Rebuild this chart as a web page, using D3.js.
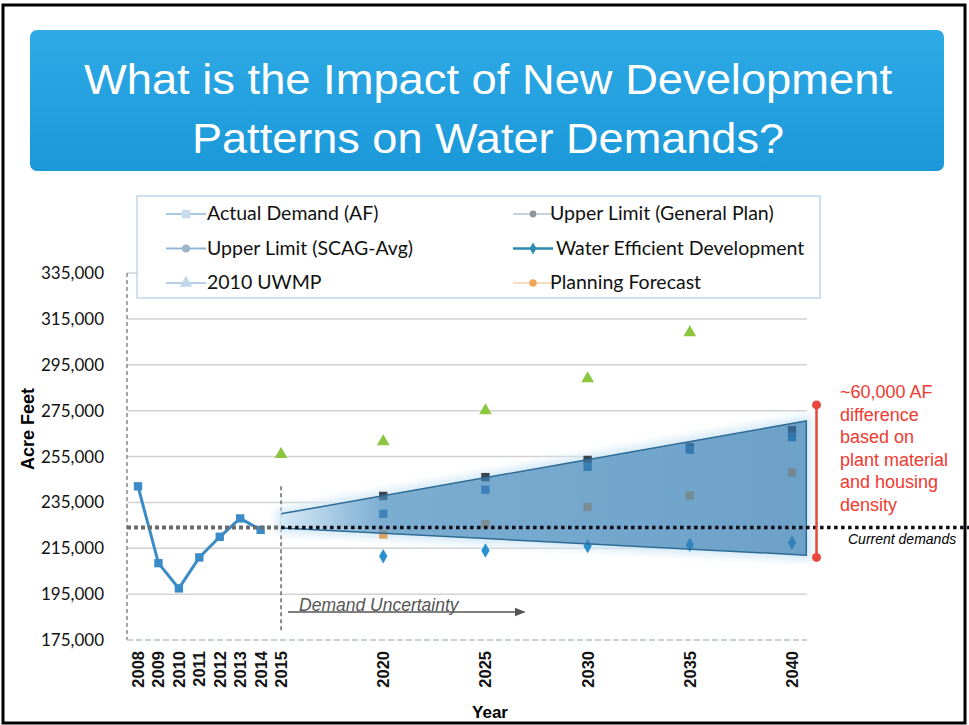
<!DOCTYPE html>
<html>
<head>
<meta charset="utf-8">
<script src="https://cdn.jsdelivr.net/npm/d3@7"></script>
<style>
  body { margin: 0; background: #fff; }
  svg { display: block; }
</style>
</head>
<body>
<div id="chart"></div>
<script>
// values
var titleLines = ["What is the Impact of New Development", "Patterns on Water Demands?"];

var actualYears = [2008, 2009, 2010, 2011, 2012, 2013, 2014];
var actualDemand = [242000, 208500, 197500, 211000, 220000, 228000, 223000];

var forecastYears = [2020, 2025, 2030, 2035, 2040];
var upperGeneralPlan = [237800, 246000, 253500, 259000, 266500];
var upperScag = [230000, 240500, 250500, 258000, 263500];
var planningForecast = [221000, 225500, 233000, 238000, 248000];
var waterEfficient = [211500, 214000, 216000, 216500, 217500];

var uwmpYears = [2015, 2020, 2025, 2030, 2035];
var uwmp2010 = [256000, 261500, 275000, 289000, 309000];

var currentDemand = 224000;
// uncertainty wedge (year, acre feet), drawn clockwise
var wedgeYears = [2015, 2040.7, 2040.7, 2015];
var wedgeValues = [230000, 270500, 212000, 223800];
var rangeYear = 2041.2;
var rangeTop = 277500, rangeBottom = 211000;

var yearTicks = [2008, 2009, 2010, 2011, 2012, 2013, 2014, 2015, 2020, 2025, 2030, 2035, 2040];
var valueTicks = [175000, 195000, 215000, 235000, 255000, 275000, 295000, 315000, 335000];

var legendItems = [
  ["Actual Demand (AF)", "actual"],
  ["Upper Limit (SCAG-Avg)", "scag"],
  ["2010 UWMP", "uwmp"],
  ["Upper Limit (General Plan)", "general"],
  ["Water Efficient Development", "efficient"],
  ["Planning Forecast", "planning"]
];
var noteLines = ["~60,000 AF", "difference", "based on", "plant material", "and housing", "density"];

const width = 969, height = 725;

var svg = d3.select("#chart").append("svg")
  .attr("width", width)
  .attr("height", height);

var defs = svg.append("defs");

var bannerGrad = defs.append("linearGradient").attr("id", "banner")
  .attr("x1", 0).attr("y1", 0).attr("x2", 0).attr("y2", 1);
bannerGrad.append("stop").attr("offset", "0%").attr("stop-color", "#2eaae6");
bannerGrad.append("stop").attr("offset", "100%").attr("stop-color", "#1b98d8");

var x = d3.scaleLinear().domain([2008, 2040]).range([138, 792]);
var y = d3.scaleLinear().domain([175000, 335000]).range([640, 273]);
var plotLeft = 127, plotRight = 807;

var wedgeGrad = defs.append("linearGradient").attr("id", "wedgeFill")
  .attr("gradientUnits", "userSpaceOnUse")
  .attr("x1", x(2015)).attr("y1", 0).attr("x2", x(2040)).attr("y2", 0);
wedgeGrad.append("stop").attr("offset", "0%").attr("stop-color", "#d6e9f6");
wedgeGrad.append("stop").attr("offset", "20%").attr("stop-color", "#4a8cbd");
wedgeGrad.append("stop").attr("offset", "100%").attr("stop-color", "#3479ae");

defs.append("filter").attr("id", "soft")
  .attr("x", "-10%").attr("y", "-40%").attr("width", "120%").attr("height", "180%")
  .append("feGaussianBlur").attr("stdDeviation", 4);

defs.append("marker").attr("id", "arrow")
  .attr("viewBox", "0 0 10 10").attr("refX", 9).attr("refY", 5)
  .attr("markerWidth", 7).attr("markerHeight", 7).attr("orient", "auto")
  .append("path").attr("d", "M0,1L10,5L0,9Z").attr("fill", "#555");

// frame + title banner
svg.append("rect").attr("x", 3).attr("y", 5).attr("width", 962).attr("height", 718)
  .attr("fill", "#fff").attr("stroke", "#000").attr("stroke-width", 3);

svg.append("rect").attr("x", 30).attr("y", 30).attr("width", 914).attr("height", 141)
  .attr("rx", 7).attr("fill", "url(#banner)");

var titleWidths = [808, 592];
svg.selectAll(".title").data(titleLines).enter().append("text")
  .attr("class", "title")
  .attr("x", 488).attr("y", (d, i) => 94 + i * 59)
  .attr("text-anchor", "middle")
  .attr("textLength", (d, i) => titleWidths[i])
  .attr("lengthAdjust", "spacingAndGlyphs")
  .style("font-family", "'Liberation Sans', Arial, sans-serif")
  .style("font-size", "42px")
  .attr("fill", "#fff")
  .text(d => d);

// gridlines
svg.append("g").selectAll("line").data(valueTicks.slice(1)).enter().append("line")
  .attr("x1", plotLeft).attr("x2", plotRight)
  .attr("y1", d => y(d)).attr("y2", d => y(d))
  .attr("stroke", "#d2d2d2").attr("stroke-width", 1.5);

// axes
svg.append("line").attr("x1", plotLeft).attr("x2", plotLeft).attr("y1", y(335000)).attr("y2", y(175000))
  .attr("stroke", "#8a8a8a").attr("stroke-width", 1.5).attr("stroke-dasharray", "4,3");
svg.append("line").attr("x1", plotLeft).attr("x2", plotRight).attr("y1", y(175000)).attr("y2", y(175000))
  .attr("stroke", "#b8c4cc").attr("stroke-width", 1.5).attr("stroke-dasharray", "6,3");
svg.append("line").attr("x1", x(2015)).attr("x2", x(2015)).attr("y1", y(242000)).attr("y2", y(178000))
  .attr("stroke", "#666").attr("stroke-width", 1.5).attr("stroke-dasharray", "4,3");

svg.append("g").selectAll("text").data(valueTicks).enter().append("text")
  .attr("x", 104).attr("y", d => y(d) + 6)
  .attr("text-anchor", "end")
  .style("font-family", "Lato, 'Open Sans', sans-serif")
  .style("font-size", "17px")
  .attr("fill", "#111")
  .text(d3.format(","));

svg.append("g").selectAll("text").data(yearTicks).enter().append("text")
  .attr("transform", d => "translate(" + (x(d) + 6) + ",651) rotate(-90)")
  .attr("text-anchor", "end")
  .style("font-family", "'Liberation Sans', Arial, sans-serif")
  .style("font-size", "16.5px")
  .style("font-weight", "bold")
  .attr("fill", "#111")
  .text(d => d);

svg.append("text")
  .attr("transform", "translate(34,429) rotate(-90)")
  .attr("text-anchor", "middle")
  .style("font-family", "'Liberation Sans', Arial, sans-serif")
  .style("font-size", "18px").style("font-weight", "bold")
  .text("Acre Feet");

svg.append("text").attr("x", 490).attr("y", 718)
  .attr("text-anchor", "middle")
  .style("font-family", "'Liberation Sans', Arial, sans-serif")
  .style("font-size", "17px").style("font-weight", "bold")
  .text("Year");

// soft glow behind the uncertainty wedge
var wedgePts = wedgeYears.map((d, i) => [x(d), y(wedgeValues[i])]);
svg.append("path")
  .attr("d", "M" + wedgePts.join("L") + "Z")
  .attr("fill", "#d3e8f6").attr("stroke", "#d3e8f6").attr("stroke-width", 10)
  .attr("filter", "url(#soft)");

// forecast points (drawn under the translucent wedge)
var sq = d3.symbol().type(d3.symbolSquare).size(70);
var dia = d3.symbol().type(d3.symbolDiamond).size(60);
var tri = d3.symbol().type(d3.symbolTriangle).size(70);

function points(years, values, sym, color) {
  svg.append("g").selectAll("path").data(values).enter().append("path")
    .attr("transform", (d, i) => "translate(" + x(years[i]) + "," + y(d) + ")")
    .attr("d", sym)
    .attr("fill", color);
}
points(forecastYears, upperGeneralPlan, sq, "#3a4350");
points(forecastYears, upperScag, sq, "#2e74b0");
points(forecastYears, planningForecast, sq, "#e0a060");
points(forecastYears, waterEfficient, dia, "#2a8fcf");
points(uwmpYears, uwmp2010, tri, "#8cc63f");

// uncertainty wedge
svg.append("path")
  .attr("d", "M" + wedgePts.join("L") + "Z")
  .attr("fill", "url(#wedgeFill)").attr("fill-opacity", 0.64)
  .attr("stroke", "none");
svg.append("path")
  .attr("d", "M" + wedgePts.slice(0, 3).join("L") + "L" + wedgePts[3])
  .attr("fill", "none")
  .attr("stroke", "#2c6c96").attr("stroke-width", 1.5);

// actual demand
svg.append("path")
  .datum(actualDemand)
  .attr("d", d3.line().x((d, i) => x(actualYears[i])).y(d => y(d)))
  .attr("fill", "none").attr("stroke", "#3a8bc6").attr("stroke-width", 3);
points(actualYears, actualDemand, sq, "#3a8bc6");

// current demands line
svg.append("line").attr("x1", plotLeft).attr("x2", x(2015))
  .attr("y1", y(currentDemand)).attr("y2", y(currentDemand))
  .attr("stroke", "#6a6a6a").attr("stroke-width", 4).attr("stroke-dasharray", "4,3");
svg.append("line").attr("x1", x(2015)).attr("x2", width)
  .attr("y1", y(currentDemand)).attr("y2", y(currentDemand))
  .attr("stroke", "#0c0c14").attr("stroke-width", 3.5).attr("stroke-dasharray", "3.5,3.5");
svg.append("text").attr("x", 848).attr("y", y(currentDemand) + 16)
  .style("font-family", "'Liberation Sans', Arial, sans-serif")
  .style("font-size", "14px").style("font-style", "italic")
  .text("Current demands");

// demand uncertainty arrow
svg.append("line").attr("x1", x(2015) + 7).attr("x2", x(2026.9))
  .attr("y1", 612).attr("y2", 612)
  .attr("stroke", "#555").attr("stroke-width", 1.5).attr("marker-end", "url(#arrow)");
svg.append("rect").attr("x", x(2015) + 14).attr("y", 596).attr("width", 172).attr("height", 15).attr("fill", "#fff");
svg.append("text").attr("x", x(2015) + 18).attr("y", 611)
  .style("font-family", "'Liberation Sans', Arial, sans-serif")
  .style("font-size", "17.5px").style("font-style", "italic")
  .attr("fill", "#555")
  .text("Demand Uncertainty");

// red range annotation
svg.append("line").attr("x1", x(rangeYear)).attr("x2", x(rangeYear))
  .attr("y1", y(rangeTop)).attr("y2", y(rangeBottom))
  .attr("stroke", "#e8463e").attr("stroke-width", 2.5);
svg.append("g").selectAll("circle").data([rangeTop, rangeBottom]).enter().append("circle")
  .attr("cx", x(rangeYear)).attr("cy", d => y(d)).attr("r", 4.5).attr("fill", "#e8463e");
svg.append("g").selectAll("text").data(noteLines).enter().append("text")
  .attr("x", 840).attr("y", (d, i) => 398 + i * 22.6)
  .style("font-family", "'Liberation Sans', Arial, sans-serif")
  .style("font-size", "18px")
  .attr("fill", "#f03a30")
  .text(d => d);

// legend
var legend = svg.append("g");
legend.append("rect").attr("x", 137).attr("y", 196).attr("width", 683).attr("height", 102)
  .attr("fill", "#fff").attr("stroke", "#aecde6").attr("stroke-width", 1.2);

var legendStyle = {
  actual:    { line: "#a8c9e4", mark: "#c6dcee", sym: sq },
  scag:      { line: "#8fb6d8", mark: "#9db5c8", sym: d3.symbol().type(d3.symbolCircle).size(50) },
  uwmp:      { line: "#b5d0e8", mark: "#c3d8ea", sym: tri },
  general:   { line: "#c6d3df", mark: "#8d949c", sym: d3.symbol().type(d3.symbolCircle).size(36) },
  efficient: { line: "#2b8bb0", mark: "#2b8bb0", sym: d3.symbol().type(d3.symbolDiamond).size(40) },
  planning:  { line: "#f6dcc0", mark: "#f0a455", sym: d3.symbol().type(d3.symbolCircle).size(45) }
};

legendItems.forEach(function(item, i) {
  var col = Math.floor(i / 3), row = i % 3;
  var cx = col === 0 ? 186 : 533;
  var cy = 214 + row * 34.5;
  var st = legendStyle[item[1]];
  var g = legend.append("g");
  g.append("line").attr("x1", cx - 20).attr("x2", cx + 20).attr("y1", cy).attr("y2", cy)
    .attr("stroke", st.line).attr("stroke-width", item[1] === "efficient" ? 2.5 : 2);
  g.append("path").attr("transform", "translate(" + cx + "," + cy + ")")
    .attr("d", st.sym).attr("fill", st.mark);
  g.append("text").attr("x", col === 0 ? 207 : (item[1] === "efficient" ? 556 : 550))
    .attr("y", cy + 6)
    .style("font-family", "Lato, 'Open Sans', sans-serif")
    .style("font-size", "19.5px")
    .attr("fill", "#111")
    .text(item[0]);
});
</script>
</body>
</html>
